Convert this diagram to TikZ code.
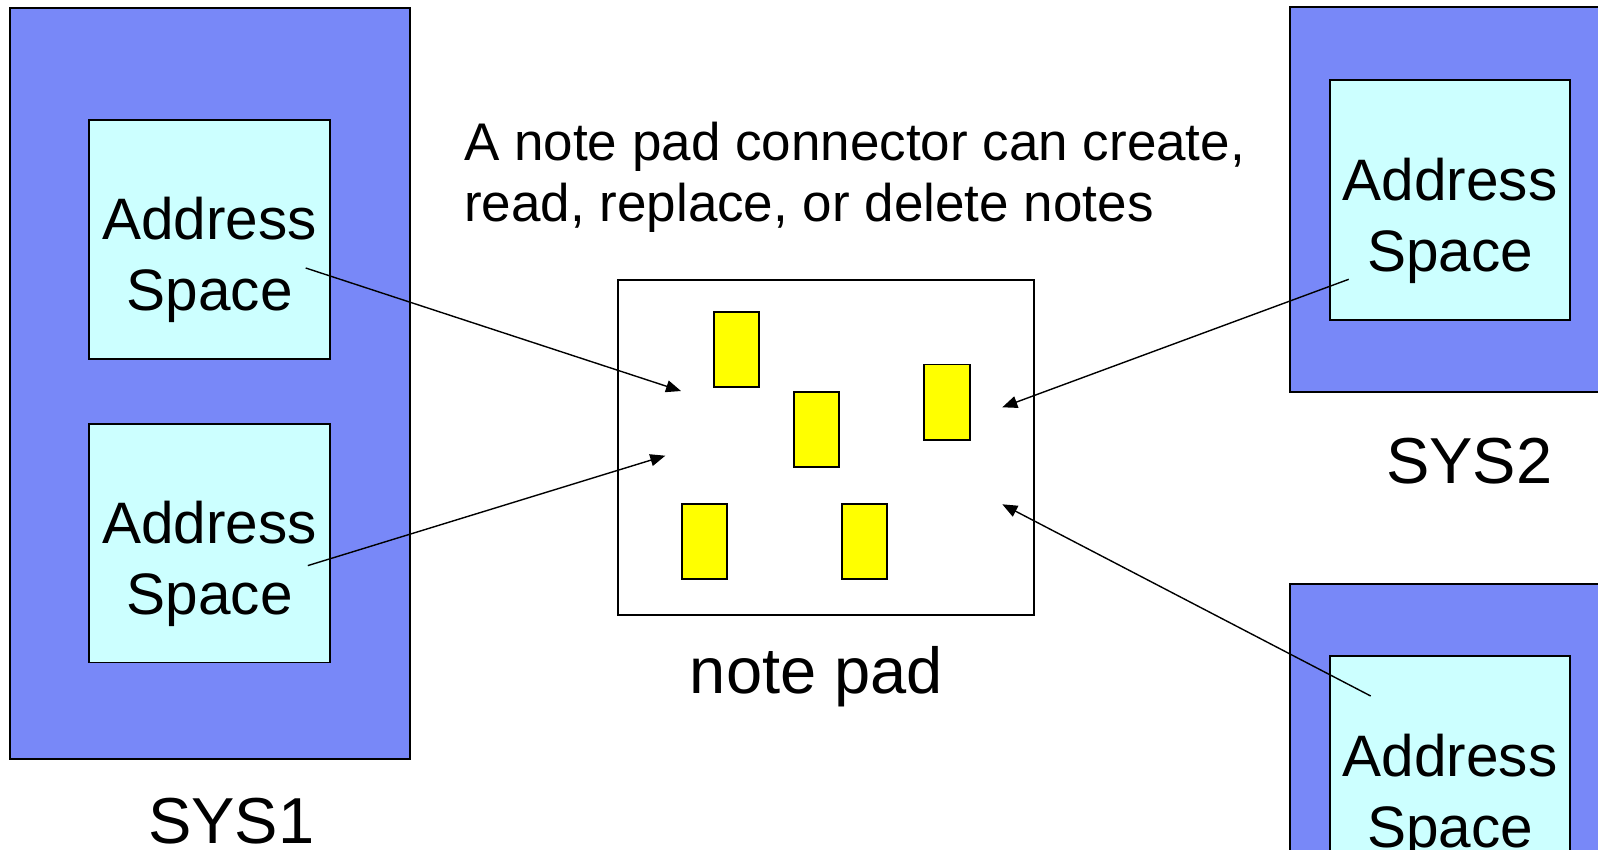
\documentclass[tikz,border=0pt]{standalone}
\usepackage{fontspec}
\setmainfont{Liberation Sans}
\usetikzlibrary{arrows.meta}
\definecolor{sysblue}{RGB}{120,136,248}
\definecolor{aspace}{RGB}{204,255,255}
\definecolor{notey}{RGB}{255,255,0}
\tikzset{
  sysbox/.style={draw=black, line width=1.8pt, fill=sysblue, inner sep=0pt, outer sep=0pt},
  asbox/.style={draw=black, line width=1.8pt, fill=aspace, inner sep=0pt, outer sep=0pt,
                minimum width=240.6pt, minimum height=238.4pt},
  padbox/.style={draw=black, line width=1.8pt, fill=white, inner sep=0pt, outer sep=0pt,
                 minimum width=416pt, minimum height=335.3pt},
  notebox/.style={draw=black, line width=1.8pt, fill=notey, inner sep=0pt, outer sep=0pt,
                  minimum width=45.6pt, minimum height=75.3pt},
  astext/.style={anchor=base, inner sep=0pt, font=\fontsize{58.5}{63}\selectfont},
  captext/.style={anchor=base west, inner sep=0pt, font=\fontsize{65}{70}\selectfont},
  infotext/.style={anchor=base west, inner sep=0pt, font=\fontsize{53}{61}\selectfont},
  link/.style={line width=1.4pt, -{Triangle[length=15pt,width=12pt]}}
}
\begin{document}
\begin{tikzpicture}[x=1pt,y=-1pt]
\useasboundingbox (0,0) rectangle (1598,849);
\clip (0,0) rectangle (1598,849);

% systems
\node[sysbox, minimum width=400pt, minimum height=751pt] (sys1) at (210,383.5) {};
\node[sysbox, minimum width=330pt, minimum height=384.4pt] (sys2) at (1455,199.5) {};
\node[sysbox, minimum width=330pt, minimum height=316pt] (sys3) at (1455,742) {};

% address spaces
\node[asbox] (as1) at (209.65,239.5) {};
\node[asbox] (as2) at (209.65,543.2) {};
\node[asbox, minimum height=240.3pt] (as3) at (1450,199.85) {};
\node[asbox, minimum height=244pt] (as4) at (1450,778) {};

\node[astext] (as1a) at (209.65,239.3) {Address};
\node[astext] (as1b) at (209.65,310.3) {Space};
\node[astext] (as2a) at (209.65,543) {Address};
\node[astext] (as2b) at (209.65,614) {Space};
\node[astext] (as3a) at (1450,200.7) {Address};
\node[astext] (as3b) at (1450,271.7) {Space};
\node[astext] (as4a) at (1450,776) {Address};
\node[astext] (as4b) at (1450,847) {Space};

% note pad with its notes
\node[padbox] (pad) at (825.7,447.65) {};
\node[notebox] (n1) at (736.5,349.35) {};
\node[notebox] (n2) at (816.5,429.35) {};
\node[notebox] (n3) at (946.85,402.15) {};
\node[notebox] (n4) at (704.5,541.35) {};
\node[notebox] (n5) at (864.5,541.35) {};

% connectors
\coordinate (s1) at (305.7,268);
\coordinate (s2) at (307.8,565.6);
\coordinate (s3) at (1348.7,279.3);
\coordinate (s4) at (1370.7,696);
\coordinate (t1) at (681,391);
\coordinate (t2) at (665.3,455.7);
\coordinate (t3) at (1002.3,407.3);
\coordinate (t4) at (1002.3,504.3);
\draw[link] (s1) -- (t1);
\draw[link] (s2) -- (t2);
\draw[link] (s3) -- (t3);
\draw[link] (s4) -- (t4);

% captions
\node[infotext] (info1) at (464,160) {A note pad connector can create,};
\node[infotext] (info2) at (464,221) {read, replace, or delete notes};
\node[captext] (padlbl) at (689.7,693.3) {note pad};
\node[captext] (sys1lbl) at (147.8,843) {SYS1};
\node[captext] (sys2lbl) at (1386,483.3) {SYS2};
\end{tikzpicture}
\end{document}
